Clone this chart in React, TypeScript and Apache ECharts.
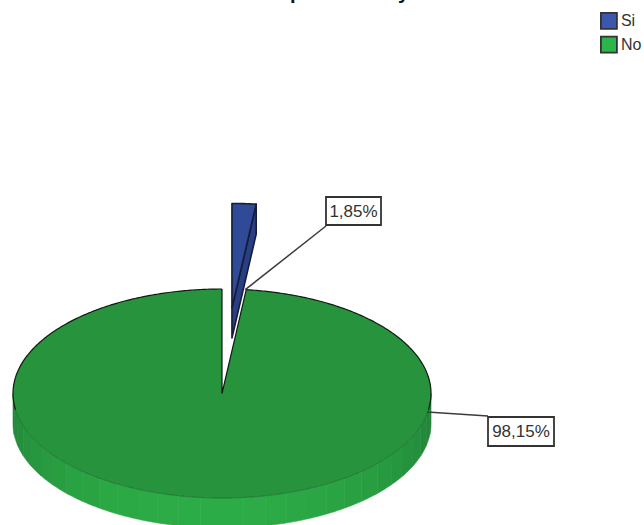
import React, { useEffect, useRef } from "react";
import * as echarts from "echarts";

// Pie shares and their printed labels
const categories = ["Si", "No"];
const shares = [1.85, 98.15];
const shareLabels = ["1,85%", "98,15%"];
const headingGlyphs = ["p", "y"];

const topColors = ["#2f4a96", "#27933d"];
const cutColors = ["#283f84", "#21843a"];
const legendColors = ["#3b57ae", "#2cb54a"];

// Projection of the tilted disc
const CX = 222;
const CY = 393.5;
const RX = 209;
const RY = 104.5;
const DEPTH = 30;
const EXPLODE = 0.82;
const FONT = '17px "Liberation Sans", Arial, sans-serif';

const total = shares.reduce((a, b) => a + b, 0);
const sliceAngles = shares.map((_, i) => {
  const before = shares.slice(0, i).reduce((a, b) => a + b, 0);
  return [(before / total) * 2 * Math.PI, ((before + shares[i]) / total) * 2 * Math.PI];
});

const rim = (a: number, dx = 0, dy = 0): number[] => [
  CX + dx + RX * Math.sin(a),
  CY + dy - RY * Math.cos(a),
];

function arcPoints(a0: number, a1: number, dx = 0, dy = 0): number[][] {
  const n = Math.max(2, Math.ceil(Math.abs(a1 - a0) / 0.01));
  const pts: number[][] = [];
  for (let i = 0; i <= n; i++) pts.push(rim(a0 + ((a1 - a0) * i) / n, dx, dy));
  return pts;
}

const mix = (t: number): string => {
  const dark = [33, 130, 56];
  const light = [44, 172, 70];
  const c = dark.map((d, i) => Math.round(d + (light[i] - d) * t));
  return `rgb(${c[0]},${c[1]},${c[2]})`;
};

function leader(x1: number, y1: number, x2: number, y2: number) {
  return {
    type: "line",
    shape: { x1, y1, x2, y2 },
    style: { stroke: "#3c3c3c", lineWidth: 1.5 },
  };
}

function labelBox(text: string, x: number, y: number, w: number, h: number) {
  return [
    {
      type: "rect",
      shape: { x, y, width: w, height: h },
      style: { fill: "#ffffff", stroke: "#333333", lineWidth: 1.8 },
    },
    {
      type: "text",
      style: {
        text,
        x: x + w / 2,
        y: y + h / 2,
        align: "center",
        verticalAlign: "middle",
        font: FONT,
        fill: "#333333",
      },
    },
  ];
}

function renderSi() {
  const [a0, a1] = sliceAngles[0];
  const mid = (a0 + a1) / 2;
  const dx = RX * EXPLODE * Math.sin(mid);
  const dy = -RY * EXPLODE * Math.cos(mid);
  const apex = [CX + dx, CY + dy];
  const far = rim(a1, dx, dy);
  return {
    type: "group",
    children: [
      {
        type: "polygon",
        shape: {
          points: [apex, far, [far[0], far[1] + DEPTH], [apex[0], apex[1] + DEPTH]],
        },
        style: { fill: cutColors[0], stroke: "#161c38", lineWidth: 1.6, lineJoin: "round" },
      },
      {
        type: "polygon",
        shape: { points: [apex, ...arcPoints(a0, a1, dx, dy)] },
        style: { fill: topColors[0], stroke: "#161c38", lineWidth: 1.6, lineJoin: "round" },
      },
      leader(rim(a1)[0] - 1, rim(a1)[1], 326, 226),
      ...labelBox(shareLabels[0], 326, 197, 55, 28),
    ],
  };
}

function renderNo() {
  const [a0, a1] = sliceAngles[1];
  const bands: object[] = [];
  const step = (6 * Math.PI) / 180;
  for (let a = Math.PI / 2; a < (3 * Math.PI) / 2 - 1e-6; a += step) {
    const b = Math.min(a + step, (3 * Math.PI) / 2);
    const m = (a + b) / 2;
    const t = Math.max(0, Math.cos(m - Math.PI * 1.02));
    const front = arcPoints(a, b);
    const back = arcPoints(b, a, 0, DEPTH);
    const fill = mix(t);
    bands.push({
      type: "polygon",
      shape: { points: [...front, ...back] },
      style: { fill, stroke: fill, lineWidth: 0.6 },
    });
  }
  return {
    type: "group",
    children: [
      ...bands,
      {
        type: "polygon",
        shape: { points: [[CX, CY], ...arcPoints(a0, a1)] },
        style: { fill: topColors[1] },
      },
      // Hairline on the front of the rim, firm outline around the back
      {
        type: "polyline",
        shape: { points: arcPoints(Math.PI * 0.55, Math.PI * 1.45) },
        style: { stroke: "#14582a", lineWidth: 0.8, fill: "none", opacity: 0.7 },
      },
      {
        type: "polyline",
        shape: { points: arcPoints(Math.PI * 1.45, a1) },
        style: { stroke: "#101a12", lineWidth: 1.2, fill: "none" },
      },
      {
        type: "polyline",
        shape: { points: arcPoints(a0, Math.PI * 0.55) },
        style: { stroke: "#101a12", lineWidth: 1.2, fill: "none" },
      },
      {
        type: "polyline",
        shape: { points: [rim(a1), [CX, CY], rim(a0)] },
        style: { stroke: "#101a12", lineWidth: 1.2, fill: "none" },
      },
      leader(427, 412, 488, 416),
      ...labelBox(shareLabels[1], 488, 417, 66, 29),
    ],
  };
}

export default function App() {
  const ref = useRef<HTMLDivElement>(null);

  useEffect(() => {
    const chart = echarts.init(ref.current!, null, { renderer: "svg" });
    chart.setOption({
      animation: false,
      backgroundColor: "#ffffff",
      legend: {
        orient: "vertical",
        left: 600,
        top: 12,
        padding: 0,
        itemWidth: 16,
        itemHeight: 16,
        itemGap: 6,
        selectedMode: false,
        data: categories.map((name, i) => ({
          name,
          icon: "rect",
          itemStyle: { color: legendColors[i], borderColor: "#333333", borderWidth: 1.8 },
        })),
        textStyle: {
          color: "#333333",
          fontFamily: '"Liberation Sans", Arial, sans-serif',
          fontSize: 16,
          padding: [0, 0, 0, -1],
        },
      },
      series: [
        {
          type: "custom",
          name: categories[0],
          coordinateSystem: "none",
          silent: true,
          itemStyle: { color: legendColors[0] },
          data: [[shares[0]]],
          renderItem: renderSi,
        },
        {
          type: "custom",
          name: categories[1],
          coordinateSystem: "none",
          silent: true,
          itemStyle: { color: legendColors[1] },
          data: [[shares[1]]],
          renderItem: renderNo,
        },
      ],
      graphic: headingGlyphs.map((text, i) => ({
        type: "text",
        left: [290, 398][i],
        top: -18,
        style: {
          text,
          font: 'bold 20px "Liberation Sans", Arial, sans-serif',
          fill: "#111111",
        },
      })),
    });
    return () => chart.dispose();
  }, []);

  return (
    <div
      ref={ref}
      style={{ position: "fixed", left: 0, top: 0, width: 644, height: 525 }}
    />
  );
}
